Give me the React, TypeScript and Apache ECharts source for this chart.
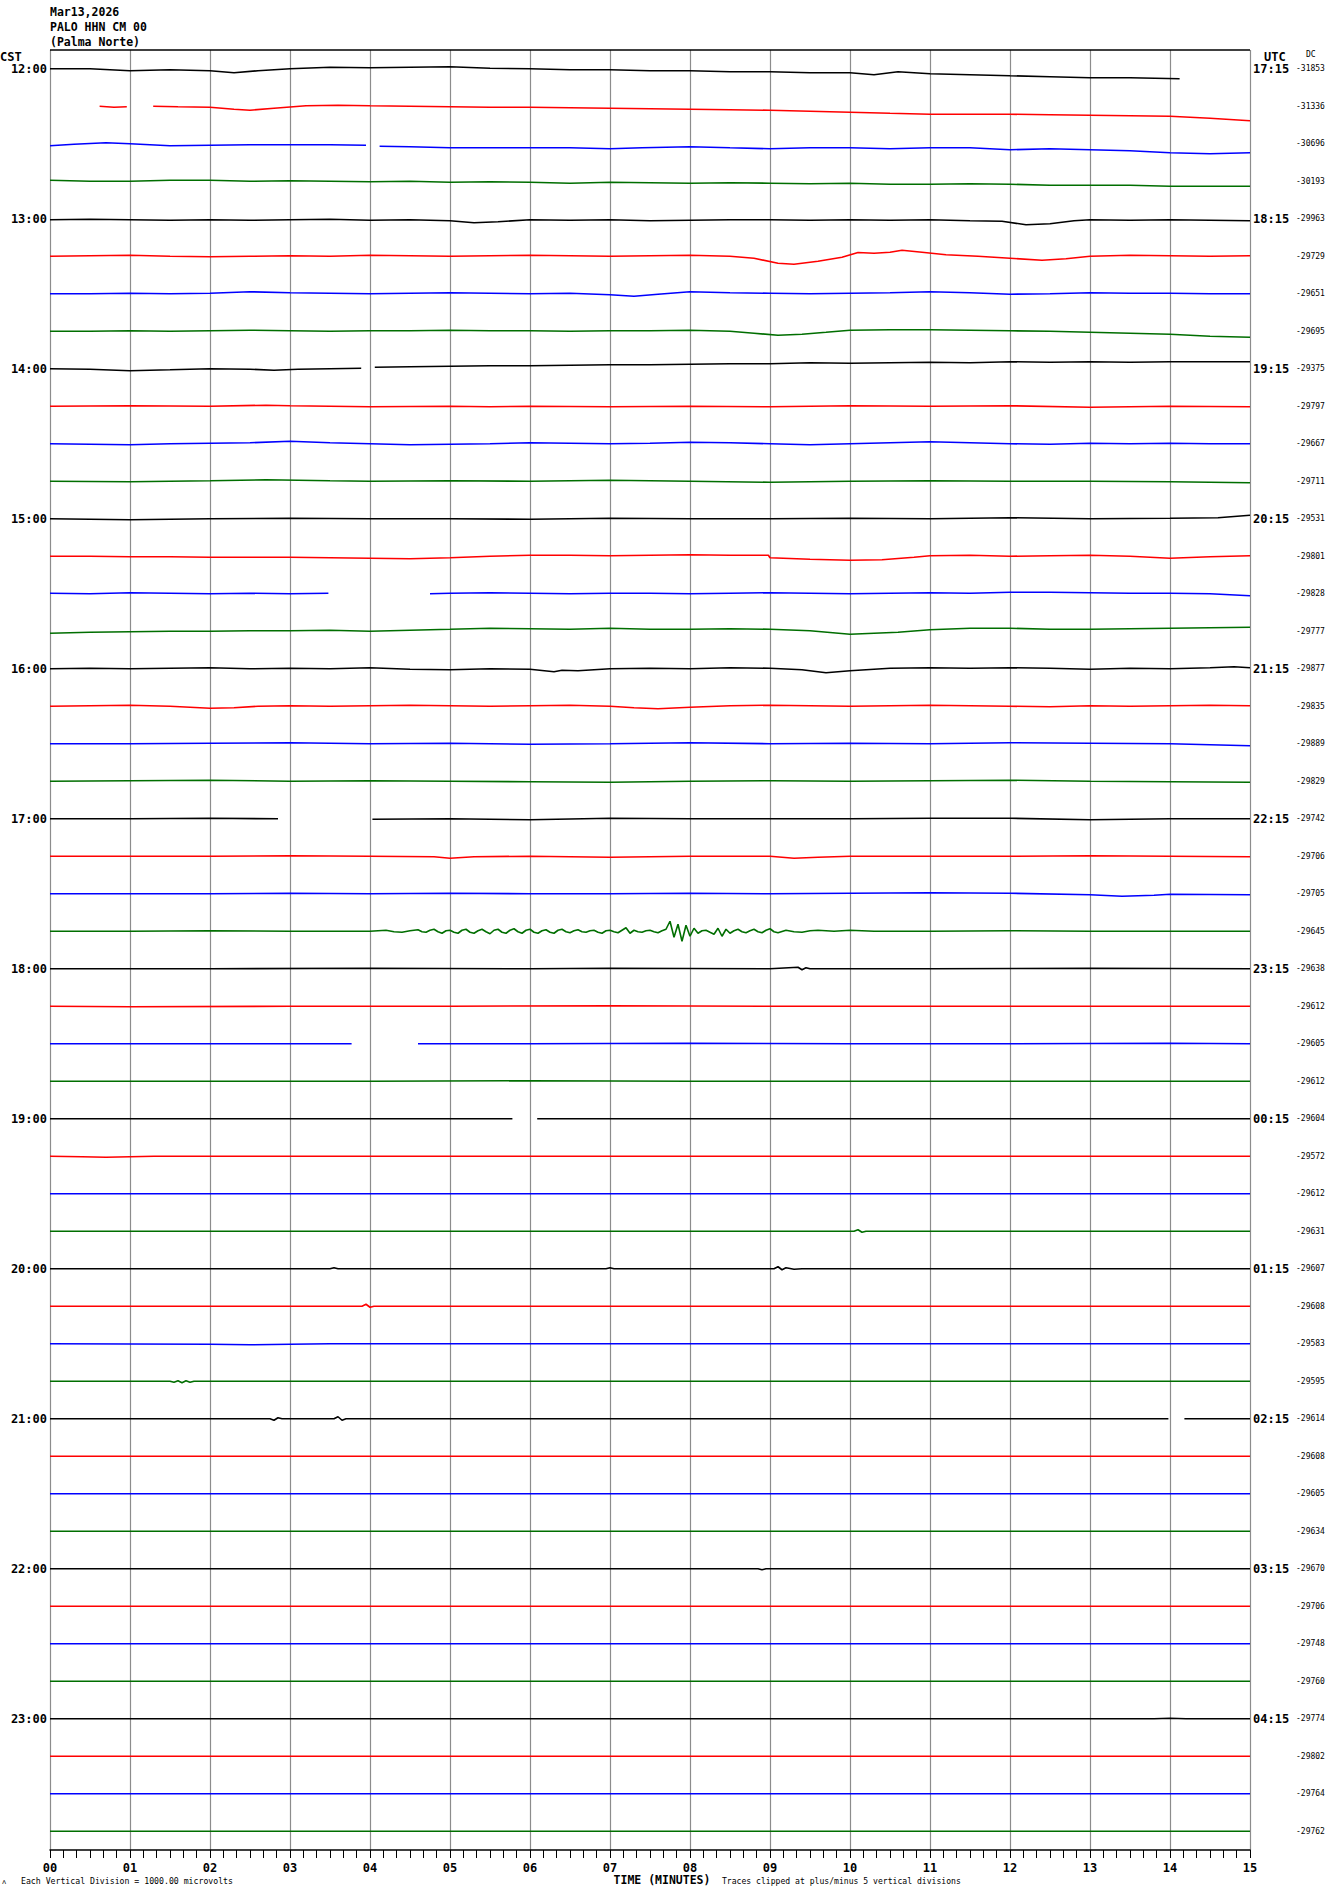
import React, { useEffect, useRef } from "react";
import * as echarts from "echarts";

// ---------- DATA ----------
const stationTitle = ["Mar13,2026", "PALO HHN CM 00", "(Palma Norte)"];
const cstHours = ["12:00","13:00","14:00","15:00","16:00","17:00","18:00","19:00","20:00","21:00","22:00","23:00"];
const utcHours = ["17:15","18:15","19:15","20:15","21:15","22:15","23:15","00:15","01:15","02:15","03:15","04:15"];
const dcValues = [
  "-31853","-31336","-30696","-30193","-29963","-29729","-29651","-29695",
  "-29375","-29797","-29667","-29711","-29531","-29801","-29828","-29777",
  "-29877","-29835","-29889","-29829","-29742","-29706","-29705","-29645",
  "-29638","-29612","-29605","-29612","-29604","-29572","-29612","-29631",
  "-29607","-29608","-29583","-29595","-29614","-29608","-29605","-29634",
  "-29670","-29706","-29748","-29760","-29774","-29802","-29764","-29762",
];
const minuteTicks = ["00","01","02","03","04","05","06","07","08","09","10","11","12","13","14","15"];
const traceColors = ["#000000", "#ff0000", "#0000ff", "#006e00"];
const microvoltsPerDivision = 1000;

// Deviation of each trace (microvolts, positive = up) at [minute, µV]
const traceShapes: number[][][] = [
  // 12:00
  [[0,0],[0.5,0],[1,-53],[1.5,-27],[2,-53],[2.3,-107],[2.6,-53],[3,0],[3.5,40],[4,27],[4.5,40],[5,53],[5.5,13],[6,0],[6.5,-27],[7,-27],[7.5,-53],[8,-53],[8.5,-80],[9,-80],[9.5,-107],[10,-107],[10.3,-160],[10.6,-80],[11,-133],[11.5,-160],[12,-187],[12.5,-213],[13,-240],[13.5,-240],[14.12,-267]],
  // 12:15
  [[0.62,0],[0.8,-27],[0.96,-13],[1.29,0],[1.6,-13],[2,-27],[2.3,-80],[2.5,-107],[2.8,-53],[3.2,13],[3.6,27],[4,13],[4.5,0],[5,-13],[5.5,-27],[6,-27],[6.5,-40],[7,-53],[7.5,-67],[8,-80],[8.5,-93],[9,-107],[9.5,-133],[10,-160],[10.5,-187],[11,-213],[11.5,-213],[12,-213],[12.5,-227],[13,-240],[13.5,-253],[14,-267],[14.5,-320],[15,-387]],
  // 12:30
  [[0,-53],[0.3,-13],[0.7,27],[1,0],[1.5,-53],[2,-40],[2.5,-27],[3,-27],[3.5,-27],[3.95,-40],[4.12,-67],[4.5,-80],[5,-107],[5.5,-107],[6,-107],[6.5,-107],[7,-133],[7.4,-107],[8,-80],[8.5,-107],[9,-133],[9.5,-107],[10,-107],[10.5,-133],[11,-107],[11.5,-107],[12,-160],[12.5,-133],[13,-160],[13.5,-187],[14,-240],[14.5,-267],[15,-240]],
  // 12:45
  [[0,27],[0.5,0],[1,0],[1.5,27],[2,27],[2.5,0],[3,13],[3.5,0],[4,-13],[4.5,0],[5,-27],[5.5,-13],[6,-27],[6.5,-53],[7,-27],[7.5,-40],[8,-53],[8.5,-40],[9,-53],[9.5,-67],[10,-53],[10.5,-80],[11,-80],[11.5,-67],[12,-80],[12.5,-107],[13,-107],[13.5,-107],[14,-133],[14.5,-133],[15,-133]],
  // 13:00
  [[0,-27],[0.5,-13],[1,-27],[1.5,-40],[2,-27],[2.5,-40],[3,-27],[3.5,-13],[4,-40],[4.5,-27],[5,-53],[5.3,-107],[5.6,-80],[6,-27],[6.5,-40],[7,-27],[7.5,-53],[8,-40],[8.5,-27],[9,-27],[9.5,-40],[10,-27],[10.5,-40],[11,-27],[11.5,-53],[11.9,-67],[12.2,-160],[12.5,-133],[12.8,-53],[13,-27],[13.5,-40],[14,-27],[14.5,-40],[15,-53]],
  // 13:15
  [[0,0],[0.5,13],[1,27],[1.5,0],[2,-13],[2.5,0],[3,13],[3.5,0],[4,27],[4.5,13],[5,0],[5.5,13],[6,27],[6.5,13],[7,0],[7.5,13],[8,27],[8.5,0],[8.8,-53],[9.1,-187],[9.3,-213],[9.6,-133],[9.9,-27],[10.1,100],[10.3,80],[10.5,107],[10.65,160],[10.9,107],[11.2,40],[11.6,0],[12,-53],[12.4,-107],[12.7,-67],[13,0],[13.5,27],[14,13],[14.5,0],[15,13]],
  // 13:30
  [[0,0],[0.5,0],[1,13],[1.5,0],[2,13],[2.5,53],[3,27],[3.5,13],[4,0],[4.5,13],[5,27],[5.5,13],[6,0],[6.5,13],[7,-27],[7.3,-67],[7.6,-13],[8,53],[8.5,27],[9,13],[9.5,0],[10,13],[10.5,27],[11,53],[11.5,27],[12,-13],[12.5,0],[13,27],[13.5,13],[14,13],[14.5,0],[15,0]],
  // 13:45
  [[0,0],[0.5,0],[1,13],[1.5,0],[2,13],[2.5,27],[3,13],[3.5,0],[4,13],[4.5,13],[5,27],[5.5,13],[6,13],[6.5,0],[7,13],[7.5,13],[8,27],[8.5,0],[8.8,-53],[9.1,-107],[9.4,-80],[9.7,-27],[10,27],[10.5,40],[11,40],[11.5,27],[12,13],[12.5,0],[13,-27],[13.5,-53],[14,-80],[14.5,-133],[15,-160]],
  // 14:00
  [[0,0],[0.5,-13],[1,-53],[1.5,-27],[2,0],[2.5,-13],[2.8,-40],[3.1,-13],[3.5,0],[3.89,13],[4.06,40],[4.5,53],[5,67],[5.5,80],[6,80],[6.5,93],[7,107],[7.5,107],[8,120],[8.5,133],[9,133],[9.5,160],[10,147],[10.5,160],[11,173],[11.5,160],[12,187],[12.5,173],[13,187],[13.5,173],[14,187],[14.5,187],[15,187]],
  // 14:15
  [[0,0],[1,13],[2,0],[2.7,27],[3,13],[4,-13],[5,0],[5.5,-13],[6,0],[7,-13],[8,0],[9,-13],[10,13],[11,0],[12,13],[13,-27],[14,0],[15,-13]],
  // 14:30
  [[0,0],[0.5,-13],[1,-27],[1.5,0],[2,13],[2.5,27],[3,67],[3.5,27],[4,0],[4.5,-27],[5,-13],[5.5,0],[6,27],[6.5,13],[7,0],[7.5,13],[8,40],[8.5,27],[9,0],[9.5,-27],[10,0],[10.5,27],[11,53],[11.5,27],[12,0],[12.5,-13],[13,13],[13.5,0],[14,13],[14.5,0],[15,0]],
  // 14:45
  [[0,0],[1,-13],[2,13],[2.7,40],[3.5,13],[4,0],[5,13],[6,0],[7,27],[8,0],[9,-27],[10,0],[11,13],[12,0],[13,0],[14,-13],[15,-40]],
  // 15:00
  [[0,0],[0.5,-13],[1,-27],[1.5,-13],[2,0],[3,13],[4,0],[5,0],[6,-13],[7,13],[8,0],[9,0],[10,13],[11,0],[12,27],[13,0],[14,13],[14.6,27],[15,93]],
  // 15:15
  [[0,0],[0.5,0],[1,-13],[1.5,-13],[2,-27],[2.5,-27],[3,-27],[3.5,-40],[4,-53],[4.5,-67],[5,-40],[5.5,0],[6,27],[6.5,27],[7,13],[7.5,27],[8,40],[8.5,27],[8.98,27],[9.0,-40],[9.5,-80],[10,-107],[10.4,-93],[10.8,-27],[11,13],[11.5,27],[12,0],[12.5,13],[13,27],[13.5,0],[14,-53],[14.5,-13],[15,13]],
  // 15:30
  [[0,13],[0.5,0],[1,27],[1.5,13],[2,0],[2.5,13],[3,0],[3.48,13],[4.75,0],[5,13],[5.5,27],[6,13],[6.5,0],[7,13],[7.5,13],[8,0],[8.5,13],[9,27],[9.5,13],[10,0],[10.5,13],[11,27],[11.5,13],[12,40],[12.5,40],[13,27],[13.5,13],[14,13],[14.5,0],[15,-53]],
  // 15:45
  [[0,-53],[0.5,-27],[1,-13],[1.5,0],[2,0],[2.5,13],[3,13],[3.5,27],[4,0],[4.5,27],[5,53],[5.5,80],[6,67],[6.5,53],[7,80],[7.5,53],[8,53],[8.5,67],[9,53],[9.5,13],[10,-80],[10.3,-53],[10.6,-27],[11,40],[11.5,80],[12,80],[12.5,53],[13,53],[13.5,67],[14,80],[14.5,93],[15,107]],
  // 16:00
  [[0,0],[0.5,13],[1,0],[1.5,13],[2,27],[2.5,0],[3,13],[3.5,0],[4,27],[4.5,-13],[5,-27],[5.5,0],[6,-13],[6.3,-80],[6.4,-40],[6.6,-53],[7,0],[7.5,13],[8,0],[8.5,27],[9,13],[9.4,-27],[9.7,-107],[10,-53],[10.5,13],[11,27],[11.5,13],[12,27],[12.5,13],[13,-13],[13.5,13],[14,0],[14.5,27],[14.8,53],[15,27]],
  // 16:15
  [[0,0],[0.5,13],[1,27],[1.5,0],[2,-53],[2.3,-40],[2.6,0],[3,13],[3.5,0],[4,13],[4.5,27],[5,13],[5.5,0],[6,13],[6.5,27],[7,0],[7.3,-40],[7.6,-67],[8,-27],[8.5,13],[9,27],[9.5,13],[10,0],[10.5,13],[11,27],[11.5,13],[12,0],[12.5,-13],[13,13],[13.5,0],[14,13],[14.5,27],[15,13]],
  // 16:30
  [[0,0],[1,0],[2,13],[3,27],[4,0],[5,13],[6,-13],[7,0],[8,27],[9,0],[10,13],[11,0],[12,27],[13,13],[14,0],[15,-53]],
  // 16:45
  [[0,0],[1,13],[2,27],[3,0],[4,13],[5,0],[6,-13],[7,-27],[8,0],[9,13],[10,0],[11,13],[12,27],[13,0],[14,-13],[15,-27]],
  // 17:00
  [[0,0],[1,0],[2,13],[2.85,0],[4.03,-13],[5,0],[6,-27],[7,13],[8,0],[9,0],[10,0],[11,13],[12,13],[13,-27],[14,0],[15,0]],
  // 17:15
  [[0,0],[1,0],[2,0],[3,13],[4,0],[4.8,-13],[5,-53],[5.3,-13],[6,0],[7,-27],[8,0],[9,0],[9.3,-53],[9.6,-27],[10,0],[11,0],[12,0],[13,13],[14,0],[15,-13]],
  // 17:30
  [[0,0],[1,0],[2,0],[3,13],[4,0],[5,13],[6,0],[7,0],[8,13],[9,0],[10,13],[11,27],[12,13],[13,-27],[13.4,-67],[13.8,-40],[14,-13],[15,-27]],
  // 17:45
  [[0,0],[1,0],[2,13],[3,0],[4,0],[4.2,27],[4.3,-13],[4.4,-27],[4.5,13],[4.6,40],[4.65,-13],[4.7,-27],[4.75,27],[4.8,53],[4.85,-13],[4.9,-53],[4.95,13],[5.0,27],[5.05,-27],[5.1,-53],[5.15,27],[5.2,53],[5.25,-27],[5.3,-53],[5.35,13],[5.4,53],[5.45,-13],[5.5,-67],[5.55,27],[5.6,53],[5.65,-27],[5.7,-53],[5.75,27],[5.8,67],[5.85,-13],[5.9,-53],[5.95,27],[6.0,53],[6.05,-27],[6.1,-53],[6.15,13],[6.2,40],[6.25,-27],[6.3,-53],[6.35,27],[6.4,53],[6.45,-13],[6.5,-40],[6.55,13],[6.6,40],[6.65,-13],[6.7,-27],[6.75,13],[6.8,27],[6.85,-27],[6.9,-53],[6.95,13],[7.0,27],[7.05,-13],[7.1,-40],[7.15,27],[7.2,93],[7.25,-53],[7.3,27],[7.35,-13],[7.4,-27],[7.45,13],[7.5,27],[7.55,-13],[7.6,-40],[7.65,13],[7.7,53],[7.75,267],[7.8,-160],[7.85,187],[7.9,-267],[7.95,160],[8.0,-133],[8.05,80],[8.1,-53],[8.15,13],[8.2,27],[8.25,-27],[8.3,-80],[8.35,80],[8.4,-133],[8.45,53],[8.5,-53],[8.55,13],[8.6,53],[8.65,-13],[8.7,-40],[8.75,13],[8.8,53],[8.85,-13],[8.9,-40],[8.95,27],[9.0,67],[9.05,-13],[9.1,-40],[9.2,27],[9.3,-13],[9.4,-27],[9.5,13],[9.6,27],[9.8,0],[10,27],[10.3,0],[11,0],[12,13],[13,0],[14,0],[15,0]],
  // 18:00
  [[0,0],[2,0],[4,13],[6,0],[7,13],[9,0],[9.35,40],[9.4,-27],[9.45,27],[9.5,0],[11,0],[13,13],[15,0]],
  // 18:15
  [[0,0],[1,-13],[3,0],[5,0],[7,13],[9,0],[11,0],[13,0],[15,0]],
  // 18:30
  [[0,0],[2,0],[3.77,0],[4.6,0],[6,0],[8,13],[10,0],[12,0],[14,13],[15,0]],
  // 18:45
  [[0,0],[2,0],[4,0],[6,13],[8,0],[10,0],[12,0],[15,0]],
  // 19:00
  [[0,0],[2,0],[4,0],[5.78,0],[6.09,0],[8,0],[10,0],[12,0],[15,0]],
  // 19:15
  [[0,0],[0.4,-13],[0.7,-27],[1,-13],[1.3,0],[3,0],[6,0],[9,0],[12,0],[15,0]],
  // 19:30
  [[0,0],[5,0],[10,0],[15,0]],
  // 19:45
  [[0,0],[5,0],[10.05,0],[10.1,40],[10.15,-27],[10.2,0],[12,0],[15,0]],
  // 20:00
  [[0,0],[3.5,0],[3.55,27],[3.6,0],[6.95,0],[7,27],[7.05,0],[9.05,0],[9.1,53],[9.15,-27],[9.2,27],[9.3,-13],[9.4,0],[15,0]],
  // 20:15
  [[0,0],[3.9,0],[3.95,53],[4.0,-27],[4.05,0],[15,0]],
  // 20:30
  [[0,0],[2,-13],[2.5,-27],[3,-13],[3.5,0],[15,0]],
  // 20:45
  [[0,0],[1.5,0],[1.55,-27],[1.6,13],[1.65,-40],[1.7,13],[1.75,-27],[1.8,0],[15,0]],
  // 21:00
  [[0,0],[2.75,0],[2.8,-40],[2.85,27],[2.9,0],[3.55,0],[3.6,53],[3.65,-40],[3.7,0],[13.98,0],[14.18,0],[15,0]],
  // 21:15
  [[0,0],[15,0]],
  // 21:30
  [[0,0],[15,0]],
  // 21:45
  [[0,0],[15,0]],
  // 22:00
  [[0,0],[8.85,0],[8.9,-27],[8.95,0],[15,0]],
  // 22:15
  [[0,0],[15,0]],
  // 22:30
  [[0,0],[15,0]],
  // 22:45
  [[0,0],[15,0]],
  // 23:00
  [[0,0],[13.8,0],[14,13],[14.2,0],[15,0]],
  // 23:15
  [[0,0],[15,0]],
  // 23:30
  [[0,0],[15,0]],
  // 23:45
  [[0,0],[15,0]],
];

// Data gaps: [trace index, start minute, end minute]
const dataGaps: number[][] = [
  [1, 0.96, 1.29],
  [2, 3.95, 4.12],
  [8, 3.89, 4.06],
  [14, 3.48, 4.75],
  [20, 2.85, 4.03],
  [26, 3.77, 4.6],
  [28, 5.78, 6.09],
  [36, 13.98, 14.18],
];

const MONO = '"DejaVu Sans Mono", monospace';

function buildSeries() {
  return traceShapes.map((shape, i) => {
    const gaps = dataGaps.filter((g) => g[0] === i);
    const data: any[] = [];
    shape.forEach((p, k) => {
      if (k > 0) {
        const prev = shape[k - 1];
        gaps.forEach((g) => {
          if (prev[0] <= g[1] && p[0] >= g[2]) data.push([g[1], "-"]);
        });
      }
      data.push([p[0], i + 0.5 - p[1] / microvoltsPerDivision]);
    });
    return {
      type: "line",
      xAxisIndex: 0,
      yAxisIndex: 0,
      data,
      symbol: "none",
      showSymbol: false,
      silent: true,
      connectNulls: false,
      lineStyle: { color: traceColors[i % 4], width: 1.6 },
      z: 3,
    };
  });
}

export default function App() {
  const ref = useRef<HTMLDivElement>(null);
  useEffect(() => {
    if (!ref.current) return;
    const chart = echarts.init(ref.current, undefined, { renderer: "svg" });
    const n = traceShapes.length;
    const leftData = Array.from({ length: n }, (_, i) => (i % 4 === 0 ? cstHours[i / 4] : ""));
    const rightData = Array.from({ length: n }, (_, i) => (i % 4 === 0 ? utcHours[i / 4] : ""));
    const hiddenAxisParts = {
      axisLine: { show: false },
      axisTick: { show: false },
      splitLine: { show: false },
    };
    chart.setOption({
      animation: false,
      backgroundColor: "#ffffff",
      grid: { left: 50, top: 50, width: 1200, height: 1800 },
      xAxis: {
        type: "value",
        min: 0,
        max: 15,
        interval: 1,
        axisLine: { show: true, onZero: false, lineStyle: { color: "#000", width: 1.5 } },
        axisTick: { show: true, length: 8, lineStyle: { color: "#000", width: 1 } },
        minorTick: { show: true, splitNumber: 6, length: 8, lineStyle: { color: "#000", width: 1 } },
        splitLine: { show: true, lineStyle: { color: "#8c8c8c", width: 1.2 } },
        axisLabel: {
          formatter: (v: number) => minuteTicks[Math.round(v)] ?? "",
          fontFamily: MONO,
          fontWeight: "bold",
          fontSize: 12,
          color: "#000",
          margin: 12,
        },
      },
      yAxis: [
        { type: "value", min: 0, max: 48, inverse: true, show: false },
        {
          type: "category",
          data: leftData,
          inverse: true,
          position: "left",
          ...hiddenAxisParts,
          axisLabel: { interval: 0, margin: 3, fontFamily: MONO, fontWeight: "bold", fontSize: 12, color: "#000" },
        },
        {
          type: "category",
          data: rightData,
          inverse: true,
          position: "right",
          ...hiddenAxisParts,
          axisLabel: { interval: 0, margin: 3, fontFamily: MONO, fontWeight: "bold", fontSize: 12, color: "#000" },
        },
        {
          type: "category",
          data: dcValues,
          inverse: true,
          position: "right",
          offset: 46,
          ...hiddenAxisParts,
          axisLabel: { interval: 0, margin: 0, fontFamily: MONO, fontSize: 8, color: "#000" },
        },
      ],
      series: buildSeries(),
      graphic: [
        { type: "line", shape: { x1: 50, y1: 50, x2: 1250, y2: 50 }, style: { stroke: "#000", lineWidth: 1.5 }, z: 10 },
        ...stationTitle.map((t, k) => ({
          type: "text",
          x: 50,
          y: [12, 27, 42][k],
          style: { text: t, font: `bold 11.5px ${MONO}`, fill: "#000", align: "left", verticalAlign: "middle" },
        })),
        { type: "text", x: 0, y: 57, style: { text: "CST", font: `bold 12px ${MONO}`, fill: "#000", align: "left", verticalAlign: "middle" } },
        { type: "text", x: 1264, y: 57, style: { text: "UTC", font: `bold 12px ${MONO}`, fill: "#000", align: "left", verticalAlign: "middle" } },
        { type: "text", x: 1306, y: 54, style: { text: "DC", font: `8px ${MONO}`, fill: "#000", align: "left", verticalAlign: "middle" } },
        { type: "text", x: 662, y: 1880, style: { text: "TIME (MINUTES)", font: `bold 11.5px ${MONO}`, fill: "#000", align: "center", verticalAlign: "middle" } },
        { type: "text", x: 21, y: 1881, style: { text: "Each Vertical Division = 1000.00 microvolts", font: `8.2px ${MONO}`, fill: "#000", align: "left", verticalAlign: "middle" } },
        { type: "text", x: 722, y: 1881, style: { text: "Traces clipped at plus/minus 5 vertical divisions", font: `8.1px ${MONO}`, fill: "#000", align: "left", verticalAlign: "middle" } },
        { type: "text", x: 2, y: 1882, style: { text: "ʌ", font: `7px ${MONO}`, fill: "#000", align: "left", verticalAlign: "middle" } },
      ],
    });
    return () => chart.dispose();
  }, []);
  return (
    <div
      ref={ref}
      style={{ position: "absolute", left: 0, top: 0, width: 1330, height: 1894, background: "#fff" }}
    />
  );
}
